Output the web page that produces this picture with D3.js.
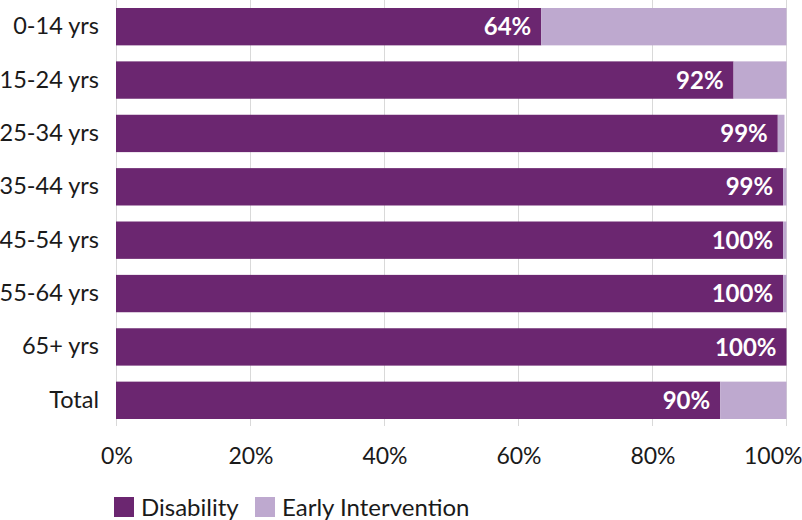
<!DOCTYPE html>
<html><head><meta charset="utf-8">
<script src="https://cdn.jsdelivr.net/npm/d3@7"></script>
<style>body{margin:0;background:#fff;} svg{display:block;} text{font-family:Lato, "Open Sans", sans-serif;}</style>
</head><body><svg id="c" width="802" height="520"></svg>
<script>
const categories = ["0-14 yrs","15-24 yrs","25-34 yrs","35-44 yrs","45-54 yrs","55-64 yrs","65+ yrs","Total"];
const disability = [63.4, 92.1, 98.7, 99.5, 99.5, 99.5, 100, 90.1];
const earlyIntervention = [36.6, 7.9, 1.0, 0.5, 0.5, 0.5, 0, 9.9];
const barLabels = ["64%","92%","99%","99%","100%","100%","100%","90%"];
const xTicks = [0,20,40,60,80,100];
const seriesNames = ["Disability","Early Intervention"];
const colors = ["#6b2670","#bea9cf"];

const svg = d3.select("#c");
const x = d3.scaleLinear().domain([0,100]).range([116.5,786.5]);
const y = d3.scaleBand().domain(categories).range([0,427]).paddingInner(0.3).paddingOuter(0.15);

// gridlines
svg.append("g").selectAll("line").data(xTicks).join("line")
  .attr("x1",d=>x(d)).attr("x2",d=>x(d)).attr("y1",0).attr("y2",426)
  .attr("stroke","#d9d9d9").attr("stroke-width",1);

const rows = categories.map((c,i)=>({c, d:disability[i], e:earlyIntervention[i], l:barLabels[i]}));
const g = svg.append("g");
g.selectAll("rect.d").data(rows).join("rect").attr("class","d")
  .attr("x",x(0)-0.5).attr("y",r=>y(r.c)).attr("height",y.bandwidth())
  .attr("width",r=>x(r.d)-x(0)+0.5).attr("fill",colors[0]);
g.selectAll("rect.e").data(rows).join("rect").attr("class","e")
  .attr("x",r=>x(r.d)).attr("y",r=>y(r.c)).attr("height",y.bandwidth())
  .attr("width",r=>x(r.d+r.e)-x(r.d)).attr("fill",colors[1]);
g.selectAll("text.l").data(rows).join("text").attr("class","l")
  .attr("x",r=>x(r.d)-10).attr("y",r=>y(r.c)+y.bandwidth()/2).attr("dy","0.36em")
  .attr("text-anchor","end").attr("fill","#fff").attr("font-weight","bold").attr("font-size",24)
  .text(r=>r.l);

// y axis labels
const ya = svg.append("g").attr("transform","translate(116,0)")
  .call(d3.axisLeft(y).tickSize(0).tickPadding(17));
ya.select(".domain").remove();
ya.selectAll("text").attr("font-size",23.5).attr("fill","#1a1a1a").style("font-family","Lato, sans-serif");

// x axis labels
const xa = svg.append("g").attr("transform","translate(0,456)")
  .call(d3.axisBottom(x).tickValues(xTicks).tickFormat(d=>d+"%").tickSize(0).tickPadding(0));
xa.select(".domain").remove();
xa.selectAll("text").attr("font-size",23).attr("fill","#1a1a1a").attr("y",0).attr("dy","0.36em")
  .style("font-family","Lato, sans-serif")
  .filter(d=>d===100).attr("text-anchor","end").attr("x",802-x(100));

// legend
const legX = [114, 255];
const lg = svg.append("g");
seriesNames.forEach((n,i)=>{
  lg.append("rect").attr("x",legX[i]).attr("y",497).attr("width",20).attr("height",20).attr("fill",colors[i]);
  lg.append("text").attr("x",legX[i]+27).attr("y",507).attr("dy","0.36em").attr("font-size",24).attr("fill","#1a1a1a").text(n);
});
</script></body></html>
